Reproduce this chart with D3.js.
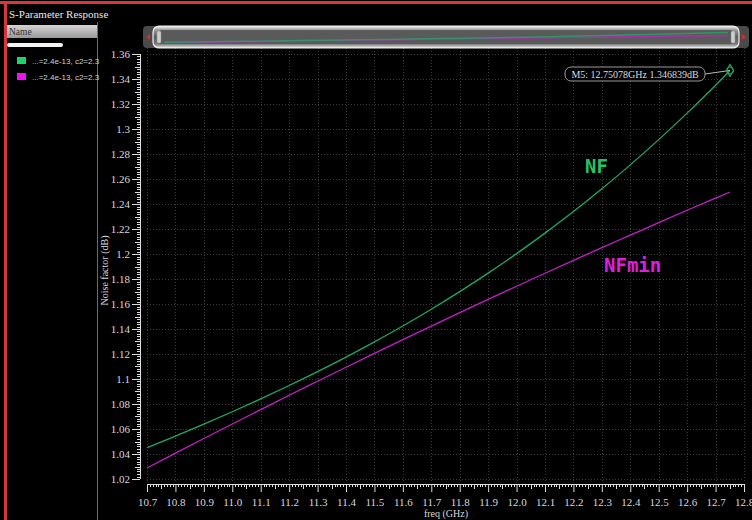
<!DOCTYPE html>
<html lang="en">
<head>
<meta charset="UTF-8">
<title>S-Parameter Response</title>
<script src="https://d3js.org/d3.v7.min.js"></script>
<style>
    body { margin: 0; background: #000; }
    svg { display: block; }
    .serif { font-family: "Liberation Serif", "DejaVu Serif", serif; }
</style>
</head>
<body>
<div id="chart"></div>
<script>
    // values
    const freqs = [10.7, 10.8, 10.9, 11.0, 11.1, 11.2, 11.3, 11.4, 11.5, 11.6, 11.7,
        11.8, 11.9, 12.0, 12.1, 12.2, 12.3, 12.4, 12.5, 12.6, 12.7, 12.75078];
    const nf = [1.0450, 1.0543, 1.0639, 1.0738, 1.0841, 1.0948, 1.1059, 1.1175, 1.1297, 1.1424, 1.1558,
        1.1699, 1.1847, 1.2003, 1.2167, 1.2340, 1.2522, 1.2713, 1.2915, 1.3127, 1.3350, 1.346839];
    const nfmin = [1.0288, 1.0407, 1.0524, 1.0640, 1.0755, 1.0870, 1.0982, 1.1094, 1.1205, 1.1315, 1.1423,
        1.1531, 1.1637, 1.1742, 1.1846, 1.1949, 1.2051, 1.2151, 1.2251, 1.2350, 1.2447, 1.2496];
    const legendNames = ["...=2.4e-13, c2=2.3", "...=2.4e-13, c2=2.3"];
    const marker = {name: "M5", freq: 12.75078, value: 1.346839};

    const width = 752, height = 520;
    const green = "#1fa865", magenta = "#c51fc8";

    const svg = d3.select("#chart").append("svg")
        .attr("width", width)
        .attr("height", height)
        .style("background", "#000");

    const defs = svg.append("defs");

    // ---- frame and left panel
    svg.append("rect").attr("x", 0).attr("y", 1).attr("width", width).attr("height", 3).attr("fill", "#d8363a");
    svg.append("rect").attr("x", 4).attr("y", 1).attr("width", 3).attr("height", height).attr("fill", "#d8363a");
    svg.append("line").attr("x1", 97.5).attr("x2", 97.5).attr("y1", 22).attr("y2", height)
        .attr("stroke", "#6a6a6a").attr("stroke-width", 1);

    svg.append("text").attr("class", "serif").attr("x", 9).attr("y", 18)
        .attr("fill", "#e8e8e8")
        .style("font-size", "11px")
        .text("S-Parameter Response");

    const hdr = defs.append("linearGradient").attr("id", "hdr").attr("x1", 0).attr("x2", 0).attr("y1", 0).attr("y2", 1);
    hdr.append("stop").attr("offset", "0%").attr("stop-color", "#d4d4d4");
    hdr.append("stop").attr("offset", "100%").attr("stop-color", "#9a9a9a");
    svg.append("rect").attr("x", 7).attr("y", 25).attr("width", 90).attr("height", 13).attr("fill", "url(#hdr)");
    svg.append("text").attr("class", "serif").attr("x", 9).attr("y", 35)
        .attr("fill", "#333")
        .style("font-size", "9.5px")
        .text("Name");
    svg.append("rect").attr("x", 7).attr("y", 43).attr("width", 56).attr("height", 4).attr("rx", 2).attr("fill", "#f4f4f4");

    [green, magenta].forEach((c, i) => {
        const y = 57 + i * 16;
        svg.append("rect").attr("x", 17).attr("y", y).attr("width", 9).attr("height", 7)
            .attr("fill", i === 0 ? "#1ed36e" : "#f010f0");
        svg.append("text").attr("x", 32).attr("y", y + 6.5)
            .attr("fill", "#d0d0d0")
            .style("font-family", "'Liberation Sans', sans-serif").style("font-size", "8px")
            .text(legendNames[i]);
    });

    // ---- plot scales
    const x = d3.scaleLinear().domain([10.7, 12.8]).range([147, 744]);
    const y = d3.scaleLinear().domain([1.02, 1.36]).range([479, 54]);
    const plotTop = 48, plotBottom = 482;

    // grid
    const grid = svg.append("g").attr("stroke", "#3a3a3a").attr("stroke-width", 1).attr("stroke-dasharray", "1,2");
    d3.range(10.7, 12.81, 0.1).forEach(v => {
        grid.append("line").attr("x1", Math.round(x(v)) + 0.5).attr("x2", Math.round(x(v)) + 0.5)
            .attr("y1", plotTop).attr("y2", plotBottom);
    });
    d3.range(1.02, 1.361, 0.02).forEach(v => {
        grid.append("line").attr("y1", Math.round(y(v)) + 0.5).attr("y2", Math.round(y(v)) + 0.5)
            .attr("x1", x(10.7)).attr("x2", x(12.8));
    });

    // y axis (offset to the left of the plot, like the original tool)
    const yAxisX = 140;
    const yAx = svg.append("g").attr("transform", `translate(${yAxisX},0)`);
    yAx.call(d3.axisLeft(y).tickValues(d3.range(1.02, 1.361, 0.02).map(v => +v.toFixed(2)))
        .tickSize(8).tickPadding(2).tickFormat(d => String(+d.toFixed(2))));
    yAx.select(".domain").remove();
    yAx.append("line").attr("x1", 0.5).attr("x2", 0.5).attr("y1", y(1.02)).attr("y2", y(1.36)).attr("stroke", "#ddd");
    d3.range(1.02, 1.3601, 0.002).forEach(v => {
        const k = Math.round(v * 1000);
        if (k % 20 === 0) return;
        const len = k % 10 === 0 ? 5 : 3;
        yAx.append("line").attr("x1", 0).attr("x2", -len).attr("y1", Math.round(y(v)) + 0.5).attr("y2", Math.round(y(v)) + 0.5)
            .attr("stroke", "#ddd");
    });
    yAx.selectAll(".tick line").attr("stroke", "#ddd");
    yAx.selectAll(".tick text").attr("class", "serif").attr("fill", "#d8d8d8")
        .attr("font-family", null).style("font-size", "11px");

    // x axis
    const xAxisY = 484;
    const xAx = svg.append("g").attr("transform", `translate(0,${xAxisY})`);
    xAx.call(d3.axisBottom(x).tickValues(d3.range(10.7, 12.81, 0.1).map(v => +v.toFixed(1)))
        .tickSize(8).tickPadding(6).tickFormat(d3.format(".1f")));
    xAx.select(".domain").remove();
    xAx.append("line").attr("x1", x(10.7)).attr("x2", x(12.8)).attr("y1", 0.5).attr("y2", 0.5).attr("stroke", "#ddd");
    d3.range(10.7, 12.8001, 0.01).forEach(v => {
        const k = Math.round(v * 100);
        if (k % 10 === 0) return;
        const len = k % 5 === 0 ? 5 : 3;
        xAx.append("line").attr("y1", 0).attr("y2", len).attr("x1", Math.round(x(v)) + 0.5).attr("x2", Math.round(x(v)) + 0.5)
            .attr("stroke", "#ddd");
    });
    xAx.selectAll(".tick line").attr("stroke", "#ddd");
    xAx.selectAll(".tick text").attr("class", "serif").attr("fill", "#d8d8d8")
        .style("font-size", "11px");
    xAx.attr("font-family", null);
    yAx.attr("font-family", null);

    // axis titles
    svg.append("text").attr("class", "serif")
        .attr("transform", `translate(108,${(y(1.02) + y(1.36)) / 2 + 4}) rotate(-90)`)
        .attr("text-anchor", "middle").attr("fill", "#d8d8d8")
        .style("font-size", "10px")
        .text("Noise factor (dB)");
    svg.append("text").attr("class", "serif")
        .attr("x", 446).attr("y", 517)
        .attr("text-anchor", "middle").attr("fill", "#d8d8d8")
        .style("font-size", "10px")
        .text("freq (GHz)");

    // curves
    const series = [
        {values: nfmin, color: magenta},
        {values: nf, color: green}
    ];
    const line = d3.line()
        .curve(d3.curveMonotoneX)
        .x((d, i) => x(freqs[i]))
        .y(d => y(d));
    series.forEach(s => {
        svg.append("path")
            .datum(s.values)
            .attr("fill", "none")
            .attr("stroke", s.color)
            .attr("stroke-width", 1.3)
            .attr("d", line);
    });

    // curve labels
    svg.append("text").attr("x", 585).attr("y", 173)
        .attr("fill", "#22c466")
        .style("font-family", "'DejaVu Sans Mono', monospace").style("font-weight", "bold").style("font-size", "19px")
        .text("NF");
    svg.append("text").attr("x", 604).attr("y", 272)
        .attr("fill", "#e01ee0")
        .style("font-family", "'DejaVu Sans Mono', monospace").style("font-weight", "bold").style("font-size", "19px")
        .text("NFmin");

    // marker M5
    const mx = x(marker.freq), my = y(marker.value);
    svg.append("line").attr("x1", 705).attr("y1", 74).attr("x2", mx).attr("y2", my)
        .attr("stroke", "#bbb").attr("stroke-width", 1);
    svg.append("rect").attr("x", 565).attr("y", 67).attr("width", 140).attr("height", 14).attr("rx", 6)
        .attr("fill", "#000").attr("stroke", "#9a9a9a").attr("stroke-width", 1);
    svg.append("text").attr("class", "serif").attr("x", 635).attr("y", 78)
        .attr("text-anchor", "middle").attr("fill", "#dcdcdc")
        .style("font-size", "10px")
        .text(`${marker.name}: ${marker.freq}GHz ${marker.value}dB`);
    svg.append("path")
        .attr("d", d3.symbol().type(d3.symbolDiamond).size(40))
        .attr("transform", `translate(${mx},${my})`)
        .attr("fill", "none").attr("stroke", green).attr("stroke-width", 1.2);
    svg.append("circle").attr("cx", mx).attr("cy", my).attr("r", 3.5)
        .attr("fill", "none").attr("stroke", green).attr("stroke-width", 1);

    // ---- overview slider on top
    const sg = defs.append("linearGradient").attr("id", "slider").attr("x1", 0).attr("x2", 0).attr("y1", 0).attr("y2", 1);
    sg.append("stop").attr("offset", "0%").attr("stop-color", "#f4f4f4");
    sg.append("stop").attr("offset", "18%").attr("stop-color", "#9b9b9b");
    sg.append("stop").attr("offset", "50%").attr("stop-color", "#5d5d5d");
    sg.append("stop").attr("offset", "82%").attr("stop-color", "#7a7a7a");
    sg.append("stop").attr("offset", "100%").attr("stop-color", "#ededed");
    svg.append("rect").attr("x", 143).attr("y", 26).attr("width", 606).attr("height", 22).attr("rx", 4)
        .attr("fill", "#4a4a4a");
    svg.append("rect").attr("x", 153).attr("y", 26).attr("width", 586).attr("height", 22).attr("rx", 6)
        .attr("fill", "url(#slider)").attr("stroke", "#f0f0f0").attr("stroke-width", 1.2);
    svg.append("rect").attr("x", 159).attr("y", 30).attr("width", 574).attr("height", 14).attr("rx", 3)
        .attr("fill", "#5a5a5a");
    const sx = d3.scaleLinear().domain([10.7, 12.75078]).range([164, 728]);
    const sy = d3.scaleLinear().domain([1.02, 1.36]).range([43, 32]);
    const miniLine = d3.line().x((d, i) => sx(freqs[i])).y(d => sy(d));
    series.forEach(s => {
        svg.append("path").datum(s.values).attr("d", miniLine)
            .attr("fill", "none").attr("stroke", s.color).attr("stroke-width", 1.5).attr("opacity", 0.8);
    });
    [157, 731].forEach(hx => {
        svg.append("rect").attr("x", hx).attr("y", 31).attr("width", 4).attr("height", 12).attr("rx", 1.5)
            .attr("fill", "#cfcfcf").attr("stroke", "#888").attr("stroke-width", 0.5);
    });
    svg.append("path").attr("d", "M150,34 L150,40 L146,37 Z").attr("fill", "#d43030");
    svg.append("path").attr("d", "M742,34 L742,40 L746,37 Z").attr("fill", "#d43030");
</script>
</body>
</html>
